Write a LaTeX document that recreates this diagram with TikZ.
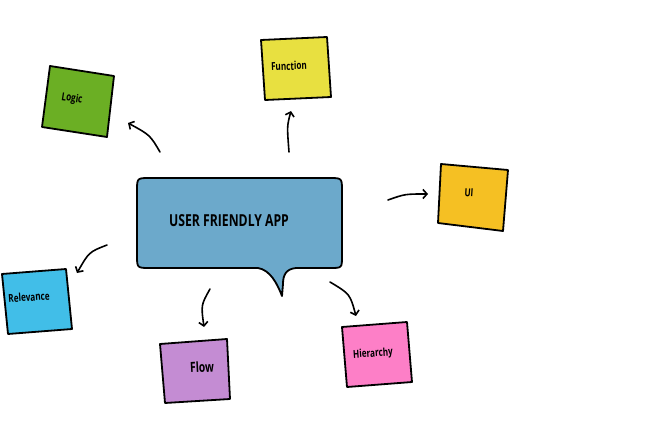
\documentclass[tikz,border=0pt]{standalone}
\usepackage{fontspec}
\setmainfont[FakeStretch=0.74]{Open Sans}
\usetikzlibrary{arrows.meta}
\definecolor{cbubble}{HTML}{6CA9CB}
\definecolor{clogic}{HTML}{6BAF24}
\definecolor{cfunc}{HTML}{E8E040}
\definecolor{cui}{HTML}{F5C023}
\definecolor{crel}{HTML}{41BEE8}
\definecolor{cflow}{HTML}{C48CD3}
\definecolor{chier}{HTML}{FD7FC7}
\begin{document}
\begin{tikzpicture}[x=1pt,y=-1pt,line join=round,line cap=round,
  note/.style={draw=black,line width=1.8pt},
  lbl/.style={font=\bfseries\fontsize{11}{13}\selectfont,inner sep=0pt},
  arr/.style={line width=1.6pt,-{Straight Barb[length=4pt,width=9pt]}}]
\useasboundingbox (0,0) rectangle (662,441);
% bubble
\path[fill=cbubble,draw=black,line width=1.8pt]
 (150,178) -- (329,178) .. controls (342,178) .. (342,191) -- (342,256)
 .. controls (342,268) .. (330,268) -- (296,268)
 .. controls (286,269) and (283,275) .. (283,284) -- (282,296)
 .. controls (277,283) and (270,270) .. (258,268) -- (150,268)
 .. controls (137,268) .. (137,255) -- (137,191) .. controls (137,178) .. (150,178) -- cycle;
\node[font=\bfseries\fontsize{16.5}{19}\selectfont,inner sep=0pt] (app) at (229,221) {USER FRIENDLY APP};
% notes
\path[note,fill=clogic] (50,66) -- (114,76) -- (107,137) -- (42,127) -- cycle;
\node[lbl,rotate=-9] (logic) at (72,99) {Logic};
\path[note,fill=cfunc] (261,40) -- (327,37) -- (331,97) -- (265,100) -- cycle;
\node[lbl,rotate=2] (func) at (289,66) {Function};
\path[note,fill=cui] (441,164) -- (508,170) -- (503,231) -- (438,223) -- cycle;
\node[lbl,rotate=-4] (ui) at (469,193) {UI};
\path[note,fill=crel] (2,274) -- (66,269) -- (72,329) -- (8,334) -- cycle;
\node[lbl,rotate=4] (rel) at (29,297) {Relevance};
\path[note,fill=cflow] (160,344) -- (227,339) -- (230,399) -- (165,403) -- cycle;
\node[lbl,font=\bfseries\fontsize{14}{16}\selectfont,rotate=3] (flow) at (202,367) {Flow};
\path[note,fill=chier] (342,327) -- (407,322) -- (412,382) -- (347,387) -- cycle;
\node[lbl,rotate=4] (hier) at (373,354) {Hierarchy};
% arrow ends
\coordinate (a1s) at (160,152); \coordinate (a1e) at (128,123);
\coordinate (a2s) at (289,152); \coordinate (a2e) at (291,111);
\coordinate (a3s) at (388,200); \coordinate (a3e) at (428,194);
\coordinate (a4s) at (107,245); \coordinate (a4e) at (77,273);
\coordinate (a5s) at (210,289); \coordinate (a5e) at (204,327);
\coordinate (a6s) at (330,282); \coordinate (a6e) at (356,316);
\draw[arr] (a1s) .. controls (150,135) .. (a1e);
\draw[arr] (a2s) .. controls (287,126) .. (a2e);
\draw[arr] (a3s) .. controls (405,194) .. (a3e);
\draw[arr] (a4s) .. controls (89,252) .. (a4e);
\draw[arr] (a5s) .. controls (201,305) .. (a5e);
\draw[arr] (a6s) .. controls (350,294) .. (a6e);
\end{tikzpicture}
\end{document}
